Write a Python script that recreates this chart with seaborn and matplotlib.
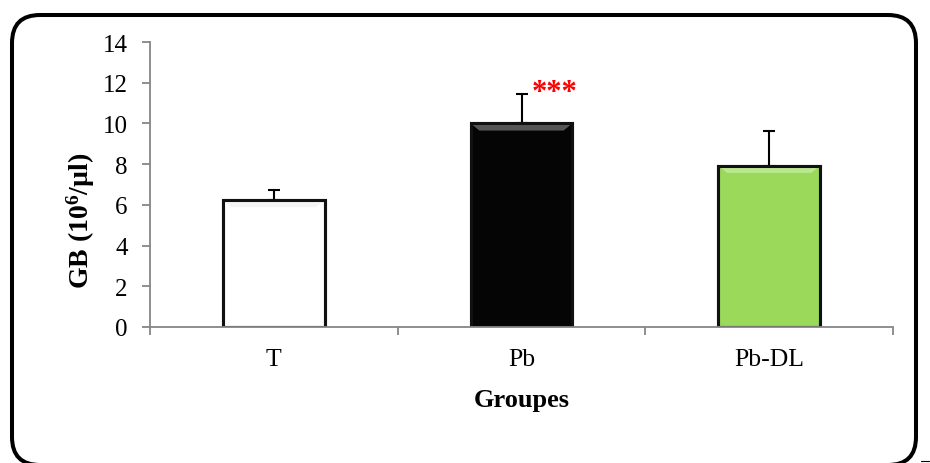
import numpy as np
import pandas as pd
import seaborn as sns
import matplotlib.pyplot as plt
from matplotlib.patches import FancyBboxPatch, Polygon
from matplotlib.transforms import IdentityTransform
from matplotlib.lines import Line2D

groupes = ['T', 'Pb', 'Pb-DL']
gb_moyenne = [6.24, 10.0, 7.92]
gb_erreur = [0.5, 1.47, 1.7]
couleurs = ['#ffffff', '#050505', '#9bd95b']
reflets = ['#f4f4f4', '#555555', '#b9e88e']
signif = ['', '***', '']

df = pd.DataFrame({'groupe': groupes, 'gb': gb_moyenne})

sns.set_style('white')
plt.rcParams['font.family'] = 'Liberation Serif'
plt.rcParams['mathtext.fontset'] = 'custom'
plt.rcParams['mathtext.bf'] = 'Liberation Serif:bold'
plt.rcParams['mathtext.rm'] = 'Liberation Serif'
plt.rcParams['text.color'] = 'black'
plt.rcParams['axes.labelcolor'] = 'black'

fig = plt.figure(figsize=(9.3, 4.64), dpi=100)
ax = fig.add_axes([150 / 930, 1 - 328 / 464, 743 / 930, 285 / 464])

sns.barplot(data=df, x='groupe', y='gb', hue='groupe', palette=couleurs,
            saturation=1, errorbar=None, width=0.41, edgecolor='#111111',
            linewidth=2.2, legend=False, ax=ax)

# petit effet de biseau en haut de chaque barre
for p, c in zip(ax.patches, reflets):
    x0, w, h = p.get_x(), p.get_width(), p.get_height()
    d = 0.035
    ax.add_patch(Polygon([(x0, h), (x0 + w, h), (x0 + w - d, h - 0.35), (x0 + d, h - 0.35)],
                         closed=True, facecolor=c, edgecolor='none', zorder=p.get_zorder() + 0.1))
    ax.add_patch(Polygon([(x0, h), (x0 + w, h), (x0 + w, 0), (x0, 0)], closed=True,
                         fill=False, edgecolor='#111111', linewidth=2.2, zorder=p.get_zorder() + 0.2))

# barres d'erreur vers le haut seulement
x = np.arange(len(groupes))
ax.errorbar(x, gb_moyenne, yerr=[np.zeros(len(groupes)), gb_erreur],
            fmt='none', ecolor='black', elinewidth=1.5, capsize=4.5, capthick=1.5, zorder=1)

for xi, m, e, s in zip(x, gb_moyenne, gb_erreur, signif):
    if s:
        ax.text(xi + 0.043, m + e - 0.33, s, color='red', fontsize=22,
                fontweight='bold', ha='left', va='baseline')

ax.set_xlim(-0.5, 2.5)
ax.set_ylim(0, 14)
ax.set_yticks(range(0, 15, 2))
ax.set_xticks([-0.5, 0.5, 1.5, 2.5], minor=False)
ax.set_xticklabels([])
ax.set_xticks(x, minor=True)
ax.set_xticklabels(groupes, minor=True)
ax.tick_params(axis='x', which='minor', length=0, labelsize=18.5, pad=15, labelcolor='black')
ax.tick_params(axis='x', which='major', length=6, width=1.3, color='#868686', direction='out')
ax.tick_params(axis='y', length=6, width=1.3, color='#868686', direction='out',
               labelsize=18, pad=10, labelcolor='black')
ax.tick_params(bottom=True, left=True)

ax.set_xlabel('Groupes', fontsize=19, fontweight='bold', labelpad=13)
ax.set_ylabel(r'GB ($\mathbf{10^6}$/µl)', fontsize=20, fontweight='bold')
ax.yaxis.set_label_coords(-0.071, 0.375)

ax.spines['top'].set_visible(False)
ax.spines['right'].set_visible(False)
for sp in ['left', 'bottom']:
    ax.spines[sp].set_color('#868686')
    ax.spines[sp].set_linewidth(1.3)
ax.grid(False)

# cadre arrondi autour du graphique (en pixels)
cadre = FancyBboxPatch((12, -2), 904, 450, boxstyle='round,pad=0,rounding_size=28',
                       transform=IdentityTransform(), fill=False,
                       edgecolor='black', linewidth=2.9, clip_on=False)
fig.patches.append(cadre)
fig.lines.append(Line2D([921, 929], [2, 2], transform=IdentityTransform(),
                        color='black', linewidth=0.8))

fig.savefig('out.png', dpi=100)
